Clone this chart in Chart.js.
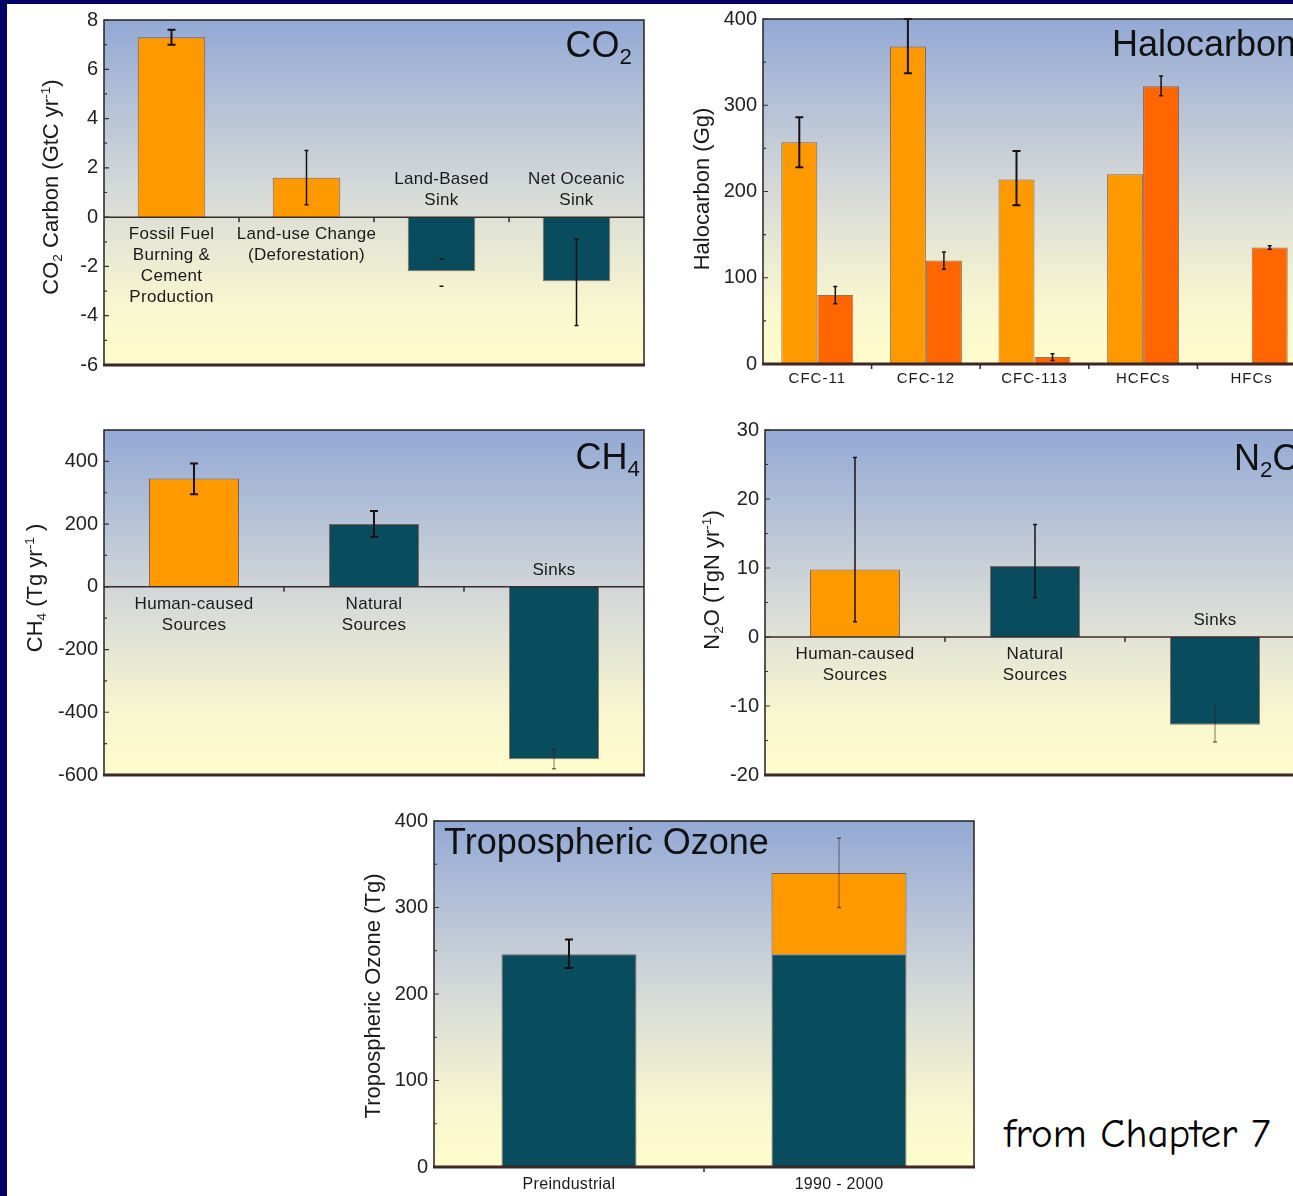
<!DOCTYPE html>
<html><head><meta charset="utf-8">
<script src="https://cdn.jsdelivr.net/npm/chart.js@4.4.1/dist/chart.umd.min.js"></script>
<style>
html,body{margin:0;padding:0;overflow:hidden;width:1293px;height:1196px;background:#050266;}
#page{position:absolute;left:7px;top:4px;width:1300px;height:1200px;background:#fff;}
canvas{position:absolute;}
#note{position:absolute;left:1004px;top:1112px;font-family:"Comic Sans MS","Comic Neue","Noto Sans",sans-serif;font-size:41px;line-height:44px;color:#000;white-space:nowrap;}
</style></head><body>
<div id="page"></div>
<canvas id="co2"></canvas>
<canvas id="halo"></canvas>
<canvas id="ch4"></canvas>
<canvas id="n2o"></canvas>
<canvas id="o3"></canvas>
<div id="note">from Chapter 7</div>
<script>
// ---------------- DATA ----------------
// CO2 panel
const co2Categories = [["Fossil Fuel","Burning &","Cement","Production"],["Land-use Change","(Deforestation)"],["Land-Based","Sink"],["Net Oceanic","Sink"]];
const co2Values   = [7.3, 1.6, -2.2, -2.6];
const co2ErrLow   = [7.0, 0.5, -2.8, -4.4];
const co2ErrHigh  = [7.6, 2.7, -1.7, -0.9];
const co2Ticks    = [-6, -4, -2, 0, 2, 4, 6, 8];
const co2Minor    = [-5, -3, -1, 1, 3, 5, 7];

// Halocarbon panel
const haloCategories = ["CFC-11", "CFC-12", "CFC-113", "HCFCs", "HFCs"];
const haloSeriesA    = [257, 368, 214, 220, null];
const haloErrALow    = [228, 337, 184, null, null];
const haloErrAHigh   = [286, 400, 247, null, null];
const haloSeriesB    = [80, 120, 8, 322, 135];
const haloErrBLow    = [70, 110, 4, 311, 133];
const haloErrBHigh   = [90, 130, 12, 334, 137];
const haloTicks      = [0, 100, 200, 300, 400];
const haloMinor      = [50, 150, 250, 350];

// CH4 panel
const ch4Categories = [["Human-caused","Sources"],["Natural","Sources"],["Sinks"]];
const ch4Values  = [345, 200, -550];
const ch4ErrLow  = [295, 160, -580];
const ch4ErrHigh = [393, 242, -518];
const ch4Ticks   = [-600, -400, -200, 0, 200, 400];
const ch4Minor   = [-500, -300, -100, 100, 300];

// N2O panel
const n2oCategories = [["Human-caused","Sources"],["Natural","Sources"],["Sinks"]];
const n2oValues  = [9.8, 10.3, -12.7];
const n2oErrLow  = [2.2, 5.7, -15.2];
const n2oErrHigh = [26, 16.3, -9.9];
const n2oTicks   = [-20, -10, 0, 10, 20, 30];
const n2oMinor   = [-15, -5, 5, 15, 25];

// Tropospheric ozone panel
const o3Categories = ["Preindustrial", "1990 - 2000"];
const o3Base      = [246, 246];
const o3Increase  = [null, 94];
const o3ErrLow    = [230, 300];
const o3ErrHigh   = [263, 380];
const o3Ticks     = [0, 100, 200, 300, 400];
const o3Minor     = [50, 150, 250, 350];

// ---------------- STYLE ----------------
const ORANGE = '#ff9900', DARKORANGE = '#ff6600', TEAL = '#084c5e';
const FONT = '"Liberation Sans", Arial, Helvetica, sans-serif';
const EDGE = 'rgba(90,45,25,0.65)';

function richMeasure(ctx, parts, size){
  return parts.map(([t,m])=>{
    const s = m ? size*0.62 : size;
    ctx.font = s + 'px ' + FONT;
    return {t, m, s, w: ctx.measureText(t).width};
  });
}
function drawRich(ctx, parts, x, y, size, align){
  const ps = richMeasure(ctx, parts, size);
  const total = ps.reduce((a,p)=>a+p.w, 0);
  let cx = align==='right' ? x-total : align==='center' ? x-total/2 : x;
  ctx.textAlign = 'left'; ctx.textBaseline = 'alphabetic';
  for(const p of ps){
    ctx.font = p.s + 'px ' + FONT;
    const dy = p.m===1 ? size*0.2 : p.m===2 ? -size*0.38 : 0;
    ctx.fillText(p.t, cx, y+dy);
    cx += p.w;
  }
}

function decor(spec){
  return {
    id: 'decor_' + spec.id,
    beforeDatasetsDraw(chart){
      const ctx = chart.ctx, a = chart.chartArea;
      const g = ctx.createLinearGradient(0, a.top, 0, a.bottom);
      g.addColorStop(0, '#93a9d5');
      g.addColorStop(0.5, '#d6dad8');
      g.addColorStop(0.82, '#f8f6cf');
      g.addColorStop(1, '#fffdcc');
      ctx.save(); ctx.fillStyle = g;
      ctx.fillRect(a.left, a.top, a.right-a.left, a.bottom-a.top);
      ctx.restore();
    },
    afterDatasetsDraw(chart){
      const ctx = chart.ctx, a = chart.chartArea, xs = chart.scales.x, ys = chart.scales.y;
      ctx.save();
      // error bars
      chart.data.datasets.forEach((ds, di)=>{
        if(!ds.errLow) return;
        const meta = chart.getDatasetMeta(di);
        ds.errLow.forEach((lo, i)=>{
          const hi = ds.errHigh[i];
          if(lo==null || hi==null) return;
          const w = ds.errW[i];
          const x = meta.data[i].x;
          const y1 = ys.getPixelForValue(lo), y2 = ys.getPixelForValue(hi);
          ctx.strokeStyle = w>0 && w<=1 ? 'rgba(50,30,20,0.6)' : '#1a1212';
          if(w>0){ ctx.lineWidth = w; ctx.beginPath(); ctx.moveTo(x,y1); ctx.lineTo(x,y2); ctx.stroke(); }
          const c = w>=2 ? 4 : 2;
          ctx.lineWidth = Math.max(w, 1.5);
          ctx.beginPath();
          ctx.moveTo(x-c, y1); ctx.lineTo(x+c, y1);
          ctx.moveTo(x-c, y2); ctx.lineTo(x+c, y2);
          ctx.stroke();
        });
      });
      // zero line
      const y0 = ys.getPixelForValue(Math.max(0, spec.min));
      if(spec.min < 0){
        ctx.strokeStyle = '#3b2b2b'; ctx.lineWidth = 1.5;
        ctx.beginPath(); ctx.moveTo(a.left, y0); ctx.lineTo(a.right, y0); ctx.stroke();
      }
      // frame
      ctx.strokeStyle = '#2a2020'; ctx.lineWidth = 1.5;
      ctx.beginPath();
      ctx.moveTo(a.left, a.bottom); ctx.lineTo(a.left, a.top); ctx.lineTo(a.right, a.top); ctx.lineTo(a.right, a.bottom);
      ctx.stroke();
      ctx.strokeStyle = '#3d2626'; ctx.lineWidth = 3;
      ctx.beginPath(); ctx.moveTo(a.left-1, a.bottom); ctx.lineTo(a.right+1, a.bottom); ctx.stroke();
      // y ticks (inside)
      ctx.strokeStyle = '#333'; ctx.lineWidth = 1.2;
      ctx.beginPath();
      spec.ticks.forEach(v=>{ const y = ys.getPixelForValue(v); ctx.moveTo(a.left, y); ctx.lineTo(a.left+5, y); });
      spec.minor.forEach(v=>{ const y = ys.getPixelForValue(v); ctx.moveTo(a.left, y); ctx.lineTo(a.left+3, y); });
      ctx.stroke();
      // category boundary ticks
      ctx.strokeStyle = '#3b2b2b'; ctx.lineWidth = 1.5;
      ctx.beginPath();
      for(let i=0;i<spec.labels.length-1;i++){
        const bx = (xs.getPixelForValue(i)+xs.getPixelForValue(i+1))/2;
        ctx.moveTo(bx, y0); ctx.lineTo(bx, y0+5);
      }
      ctx.stroke();
      // category labels
      ctx.fillStyle = '#1a1a1a'; ctx.textAlign = 'center'; ctx.textBaseline = 'middle';
      ctx.font = spec.labelSize + 'px ' + FONT;
      if('letterSpacing' in ctx) ctx.letterSpacing = spec.labelSpacing + 'px';
      spec.labels.forEach((lab, i)=>{
        const x = xs.getPixelForValue(i);
        const lines = Array.isArray(lab) ? lab : [lab];
        if(spec.inside){
          const v = chart.data.datasets[0].data[i];
          lines.forEach((ln, k)=>{
            const y = v >= 0 ? y0 + 17 + k*21 : y0 - 17 - (lines.length-1-k)*21;
            ctx.fillText(ln, x, y);
          });
        } else {
          ctx.fillText(lines[0], x, a.bottom + spec.labelDy);
        }
      });
      if('letterSpacing' in ctx) ctx.letterSpacing = '0px';
      // panel title
      ctx.fillStyle = '#111';
      const T = spec.title;
      const tx = T.align==='right' ? a.right + T.dx : a.left + T.dx;
      drawRich(ctx, T.parts, tx, a.top + T.dy, 36, T.align);
      // y axis title (rotated)
      const Y = spec.ytitle;
      ctx.save();
      ctx.translate(a.left + Y.dx, a.top + Y.dy);
      ctx.rotate(-Math.PI/2);
      ctx.fillStyle = '#1a1a1a';
      drawRich(ctx, Y.parts, 0, 22*0.36, 22, 'center');
      ctx.restore();
      ctx.restore();
    }
  };
}

function makePanel(spec){
  const [l,t,r,b] = spec.plot;
  const axisW = 90, padT = 16, padR = 12, padB = spec.padB;
  const cv = document.getElementById(spec.id);
  const W = r-l+axisW+padR, H = b-t+padT+padB;
  cv.width = W; cv.height = H;
  cv.style.left = (l-axisW)+'px'; cv.style.top = (t-padT)+'px';
  cv.style.width = W+'px'; cv.style.height = H+'px';
  new Chart(cv, {
    type: 'bar',
    data: {labels: spec.labels, datasets: spec.datasets},
    options: {
      responsive: false, animation: false, devicePixelRatio: 1,
      layout: {padding: {left: 0, top: padT, right: padR, bottom: padB}},
      plugins: {legend: {display: false}, tooltip: {enabled: false}},
      datasets: {bar: {categoryPercentage: spec.catPct, barPercentage: spec.barPct}},
      scales: {
        x: {display: false, stacked: !!spec.stacked, grid: {display: false}},
        y: {
          min: spec.min, max: spec.max, stacked: !!spec.stacked,
          afterBuildTicks(s){ s.ticks = spec.ticks.map(v=>({value: v})); },
          afterFit(s){ s.width = axisW; },
          grid: {display: false, drawTicks: false}, border: {display: false},
          ticks: {autoSkip: false, padding: 6, color: '#222', font: {family: FONT, size: 20}, callback: v => String(v)}
        }
      }
    },
    plugins: [decor(spec)]
  });
}

const barStyle = {borderWidth: 1, borderColor: EDGE};

makePanel({
  id: 'co2', plot: [104, 18, 644, 367], padB: 16, min: -6, max: 8,
  ticks: co2Ticks, minor: co2Minor, labels: co2Categories, inside: true, labelSize: 17, labelSpacing: 0.3,
  catPct: 1, barPct: 0.5,
  datasets: [{data: co2Values, backgroundColor: [ORANGE, ORANGE, TEAL, TEAL], ...barStyle,
    errLow: co2ErrLow, errHigh: co2ErrHigh, errW: [2, 1.5, 0, 1.5]}],
  title: {parts: [['CO',0],['2',1]], align: 'right', dx: -12, dy: 37},
  ytitle: {parts: [['CO',0],['2',1],[' Carbon (GtC yr',0],['-1',2],[')',0]], dx: -54, dy: 167}
});

makePanel({
  id: 'halo', plot: [763, 17, 1306, 364], padB: 30, min: 0, max: 400,
  ticks: haloTicks, minor: haloMinor, labels: haloCategories, inside: false, labelSize: 15, labelSpacing: 1, labelDy: 15,
  catPct: 0.663, barPct: 1,
  datasets: [
    {data: haloSeriesA, backgroundColor: ORANGE, ...barStyle, errLow: haloErrALow, errHigh: haloErrAHigh, errW: [2,2,2,2,2]},
    {data: haloSeriesB, backgroundColor: DARKORANGE, ...barStyle, errLow: haloErrBLow, errHigh: haloErrBHigh, errW: [1.5,1.5,1.5,1.5,1.5]}
  ],
  title: {parts: [['Halocarbons',0]], align: 'left', dx: 349, dy: 37},
  ytitle: {parts: [['Halocarbon (Gg)',0]], dx: -62, dy: 170}
});

makePanel({
  id: 'ch4', plot: [104, 428, 644, 777], padB: 16, min: -600, max: 500,
  ticks: ch4Ticks, minor: ch4Minor, labels: ch4Categories, inside: true, labelSize: 17, labelSpacing: 0.3,
  catPct: 1, barPct: 0.5,
  datasets: [{data: ch4Values, backgroundColor: [ORANGE, TEAL, TEAL], ...barStyle,
    errLow: ch4ErrLow, errHigh: ch4ErrHigh, errW: [2, 2, 1]}],
  title: {parts: [['CH',0],['4',1]], align: 'right', dx: -4, dy: 39},
  ytitle: {parts: [['CH',0],['4',1],[' (Tg yr',0],['-1',2],[' )',0]], dx: -70, dy: 158}
});

makePanel({
  id: 'n2o', plot: [765, 428, 1305, 777], padB: 16, min: -20, max: 30,
  ticks: n2oTicks, minor: n2oMinor, labels: n2oCategories, inside: true, labelSize: 17, labelSpacing: 0.3,
  catPct: 1, barPct: 0.5,
  datasets: [{data: n2oValues, backgroundColor: [ORANGE, TEAL, TEAL], ...barStyle,
    errLow: n2oErrLow, errHigh: n2oErrHigh, errW: [1.5, 1.5, 1]}],
  title: {parts: [['N',0],['2',1],['O',0]], align: 'left', dx: 469, dy: 40},
  ytitle: {parts: [['N',0],['2',1],['O (TgN yr',0],['-1',2],[')',0]], dx: -54, dy: 150}
});

makePanel({
  id: 'o3', plot: [434, 819, 974, 1167], padB: 29, min: 0, max: 400, stacked: true,
  ticks: o3Ticks, minor: o3Minor, labels: o3Categories, inside: false, labelSize: 16, labelSpacing: 0.3, labelDy: 18,
  catPct: 1, barPct: 0.5,
  datasets: [
    {data: o3Base, backgroundColor: TEAL, ...barStyle, errLow: [o3ErrLow[0], null], errHigh: [o3ErrHigh[0], null], errW: [2, 0]},
    {data: o3Increase, backgroundColor: ORANGE, ...barStyle, errLow: [null, o3ErrLow[1]], errHigh: [null, o3ErrHigh[1]], errW: [0, 1]}
  ],
  title: {parts: [['Tropospheric Ozone',0]], align: 'left', dx: 10, dy: 33},
  ytitle: {parts: [['Tropospheric Ozone (Tg)',0]], dx: -62, dy: 175}
});
</script>
</body></html>
